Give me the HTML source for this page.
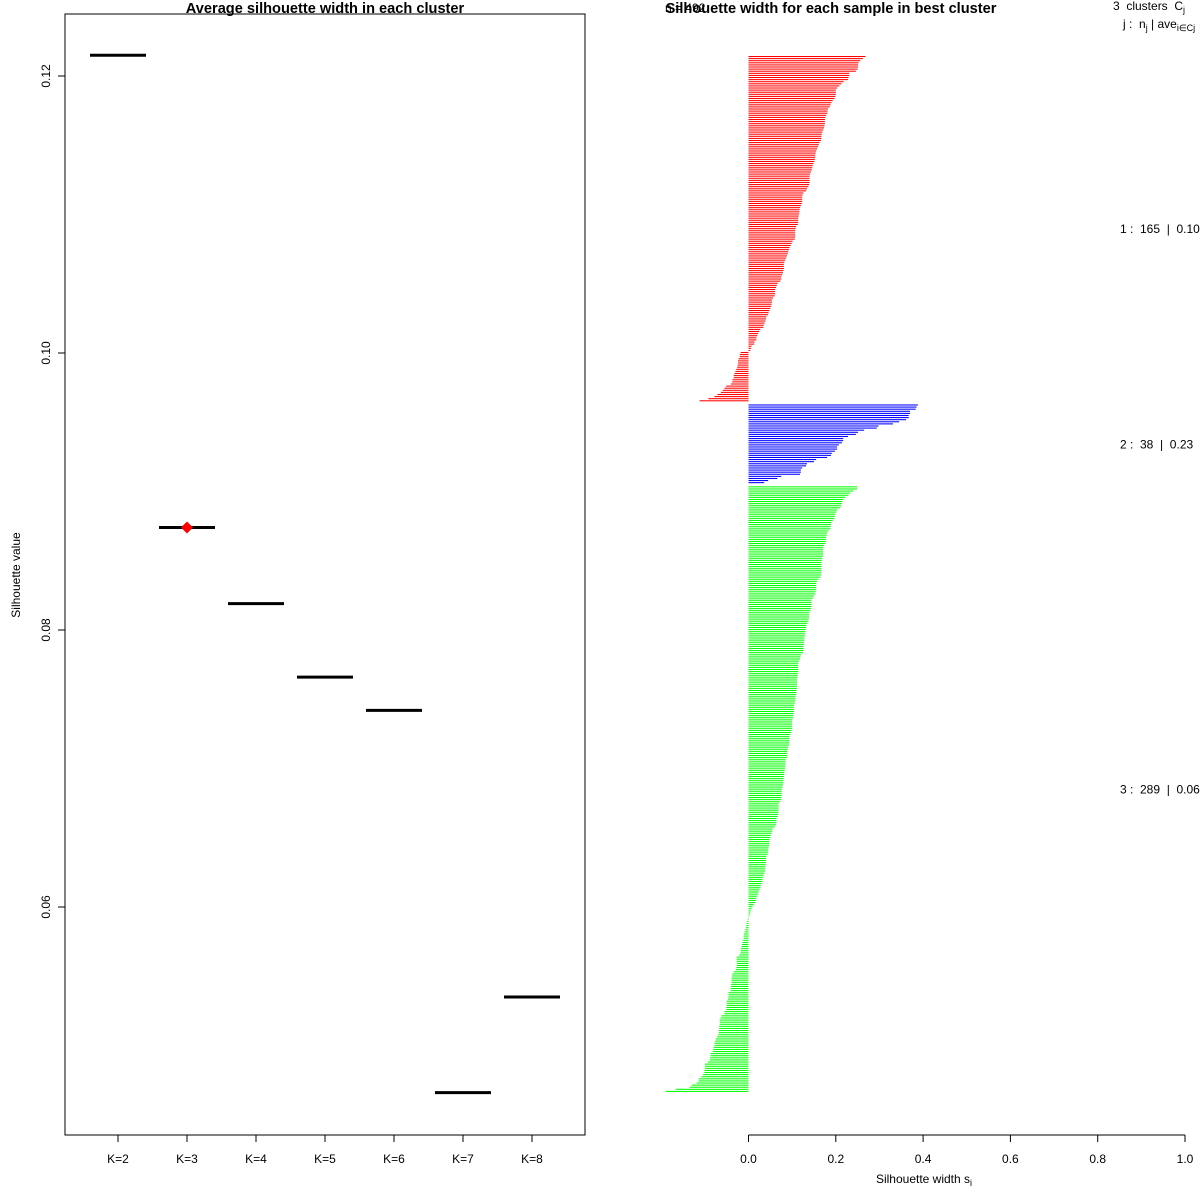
<!DOCTYPE html>
<html><head><meta charset="utf-8"><style>
html,body{margin:0;padding:0;background:#fff;}
svg{display:block;font-family:"Liberation Sans",sans-serif;}
.pre{white-space:pre;}
</style></head><body>
<svg id="chart" width="1200" height="1200" viewBox="0 0 1200 1200" xmlns="http://www.w3.org/2000/svg">
<rect x="0" y="0" width="1200" height="1200" fill="#fff"/>
<text x="325" y="13" text-anchor="middle" font-size="14.6" font-weight="bold">Average silhouette width in each cluster</text>
<rect x="65" y="14" width="520" height="1121" fill="none" stroke="#000" stroke-width="1"/>
<text transform="translate(20,575) rotate(-90)" text-anchor="middle" font-size="12">Silhouette value</text>
<g id="leftAxes"></g>
<g id="leftMarks"></g>
<text x="665" y="12" font-size="12">n = 492</text>
<text x="831" y="13" text-anchor="middle" font-size="14.6" font-weight="bold">Silhouette width for each sample in best cluster</text>
<text x="1113" y="10" font-size="12" class="pre">3  clusters  C<tspan font-size="9" dy="3">j</tspan></text>
<text x="1123" y="28" font-size="12" class="pre">j :  n<tspan font-size="9" dy="3">j</tspan><tspan dy="-3"> | ave</tspan><tspan font-size="9" dy="3">i∈Cj</tspan><tspan dy="-3">  s</tspan><tspan font-size="9" dy="3">i</tspan></text>
<g id="rightAxes"></g>
<g id="rightMarks"></g>
<g id="clusterLabels"></g>
<text x="924" y="1183" text-anchor="middle" font-size="12">Silhouette width s<tspan font-size="9" dy="3">i</tspan></text>
</svg>
<script>
// ---- left chart data ----
const kLabels = ["K=2","K=3","K=4","K=5","K=6","K=7","K=8"];
const avgSil = [0.1215,0.0874,0.0819,0.0766,0.0742,0.0466,0.0535];
const bestIndex = 1;
const yTicks = [0.06,0.08,0.10,0.12];
const yTickLabels = ["0.06","0.08","0.10","0.12"];

// ---- right chart data ----
const clusterNames = ["1","2","3"];
const clusterColors = ["#ff0000","#0000ff","#00ff00"];
const clusterAvg = ["0.10","0.23","0.06"];
const cluster1 = [.268,.262,.256,.252,.251,.251,.250,.246,.231,.231,.229,.228,.218,.213,.208,.203,.200,.200,.200,.199,.197,.193,.190,.188,.186,.182,.181,.181,.178,.176,.175,.175,.175,.174,.173,.171,.169,.168,.167,.167,.166,.163,.161,.159,.157,.155,.154,.153,.153,.152,.151,.149,.147,.146,.145,.143,.141,.140,.140,.140,.140,.139,.137,.134,.132,.126,.124,.123,.123,.123,.122,.120,.118,.117,.117,.116,.115,.114,.114,.114,.113,.109,.108,.107,.107,.107,.107,.106,.101,.099,.097,.094,.093,.091,.090,.088,.086,.084,.082,.081,.081,.081,.080,.079,.077,.075,.075,.073,.067,.065,.063,.061,.061,.061,.060,.056,.054,.054,.053,.052,.050,.048,.046,.045,.041,.040,.039,.037,.035,.034,.027,.025,.022,.020,.018,.018,.014,.013,.007,.006,.004,
-.018,-.020,-.020,-.023,-.024,-.024,-.025,-.026,-.028,-.030,-.032,-.034,-.034,-.037,-.037,-.040,-.051,-.055,-.059,-.063,-.071,-.078,-.092,-.112];
const cluster2 = [.388,.385,.383,.370,.370,.367,.367,.361,.345,.331,.298,.294,.265,.251,.246,.228,.217,.217,.214,.207,.203,.203,.198,.191,.189,.180,.155,.150,.134,.132,.123,.120,.120,.118,.075,.066,.045,.036];
const cluster3 = [.249,.249,.240,.233,.229,.222,.217,.215,.214,.212,.210,.203,.201,.199,.198,.197,.193,.190,.189,.188,.188,.183,.180,.179,.178,.178,.177,.176,.173,.171,.171,.171,.171,.171,.169,.168,.167,.167,.167,.167,.167,.167,.166,.165,.160,.157,.155,.155,.155,.155,.154,.153,.150,.148,.144,.144,.144,.144,.143,.142,.139,.139,.139,.138,.137,.135,.133,.132,.131,.130,.130,.129,.128,.128,.127,.127,.126,.126,.126,.125,.120,.119,.118,.116,.114,.114,.114,.114,.114,.113,.113,.112,.111,.111,.111,.111,.111,.110,.110,.109,.108,.108,.107,.106,.105,.104,.104,.104,.104,.103,.102,.100,.100,.100,.100,.100,.099,.098,.095,.094,.094,.094,.093,.093,.091,.090,.089,.089,.089,.088,.085,.085,.085,.084,.084,.083,.082,.082,.081,.080,.080,.080,.079,.078,.077,.076,.076,.076,.075,.075,.072,.069,.069,.069,.069,.069,.068,.067,.064,.064,.064,.063,.060,.055,.055,.053,.051,.050,.048,.048,.048,.047,.046,.045,.045,.044,.041,.041,.040,.040,.039,.039,.038,.038,.037,.035,.033,.032,.032,.030,.028,.027,.025,.023,.022,.020,.018,.017,.016,.012,.009,.007,.005,.004,.003,
-.001,-.002,-.003,-.004,-.005,-.006,-.007,-.009,-.011,-.011,-.011,-.012,-.014,-.015,-.016,-.017,-.018,-.018,-.021,-.027,-.027,-.027,-.027,-.027,-.028,-.029,-.034,-.037,-.038,-.039,-.039,-.039,-.040,-.040,-.041,-.041,-.046,-.046,-.046,-.047,-.050,-.050,-.050,-.051,-.051,-.055,-.055,-.062,-.064,-.066,-.066,-.066,-.067,-.067,-.068,-.068,-.069,-.072,-.075,-.076,-.078,-.078,-.080,-.081,-.082,-.087,-.087,-.088,-.089,-.093,-.100,-.100,-.100,-.101,-.101,-.104,-.108,-.114,-.114,-.119,-.130,-.135,-.167,-.190];
const xTicks = [0,0.2,0.4,0.6,0.8,1.0];
const xTickLabels = ["0.0","0.2","0.4","0.6","0.8","1.0"];

const NS = "http://www.w3.org/2000/svg";
function mk(tag, attrs, parent){const e=document.createElementNS(NS,tag);for(const k in attrs)e.setAttribute(k,attrs[k]);parent.appendChild(e);return e;}

// left scales
const yL = v => 353 + (0.10 - v) * 13850;
const xL = i => 118 + i * 69;
const la = document.getElementById("leftAxes");
yTicks.forEach((t,i)=>{
  const tk = mk("line",{x1:58,x2:65,y1:yL(t),y2:yL(t),stroke:"#000"},la);
  
  
  const tx = mk("text",{transform:`translate(50,${yL(t)}) rotate(-90)`,"text-anchor":"middle","font-size":12},la);
  
  
  tx.textContent = yTickLabels[i];
});
kLabels.forEach((k,i)=>{
  const tk = mk("line",{x1:xL(i),x2:xL(i),y1:1135,y2:1142,stroke:"#000"},la);
  
  
  const tx = mk("text",{x:xL(i),y:1163,"text-anchor":"middle","font-size":12},la);
  
  
  tx.textContent = k;
});
const lm = document.getElementById("leftMarks");
avgSil.forEach((v,i)=>{
  const s = mk("line",{x1:xL(i)-28,x2:xL(i)+28,y1:yL(v),y2:yL(v),stroke:"#000","stroke-width":3},lm);
  
  
});
{
  const cx = xL(bestIndex), cy = yL(avgSil[bestIndex]);
  const d = mk("polygon",{points:`${cx},${cy-6} ${cx+6},${cy} ${cx},${cy+6} ${cx-6},${cy}`,fill:"#ff0000"},lm);
  
  
}

// right scales
const x0 = 748.5, xs = 436.5;
const xR = v => x0 + v * xs;
const ra = document.getElementById("rightAxes");
{
  const ax = mk("line",{x1:xR(0),x2:xR(1),y1:1135,y2:1135,stroke:"#000"},ra);
  
  
}
xTicks.forEach((t,i)=>{
  const tk = mk("line",{x1:xR(t),x2:xR(t),y1:1135,y2:1142,stroke:"#000"},ra);
  
  
  const tx = mk("text",{x:xR(t),y:1163,"text-anchor":"middle","font-size":12},ra);
  
  
  tx.textContent = xTickLabels[i];
});
const clusters = [cluster1, cluster2, cluster3];
const gapUnits = 1;
const totalUnits = cluster1.length + cluster2.length + cluster3.length + 2*gapUnits;
const step = (1093 - 56) / totalUnits;
const rm = document.getElementById("rightMarks");
const cl = document.getElementById("clusterLabels");
let pos = 0;
clusters.forEach((c,ci)=>{
  const start = pos;
  c.forEach(v=>{
    const y = 56 + pos * step;
    const x = Math.min(xR(0), xR(v));
    const w = Math.abs(xR(v) - xR(0));
    const r = mk("rect",{x:x,y:y,width:Math.max(w,0.5),height:step*0.5,fill:clusterColors[ci]},rm);
    
    
    pos++;
  });
  const mid = 56 + (start + c.length/2) * step;
  const t = mk("text",{x:1120,y:mid+4,"font-size":12,"class":"pre"},cl);
  
  
  t.textContent = `${clusterNames[ci]} :  ${c.length}  |  ${clusterAvg[ci]}`;
  pos += gapUnits;
});
</script>
</body></html>
